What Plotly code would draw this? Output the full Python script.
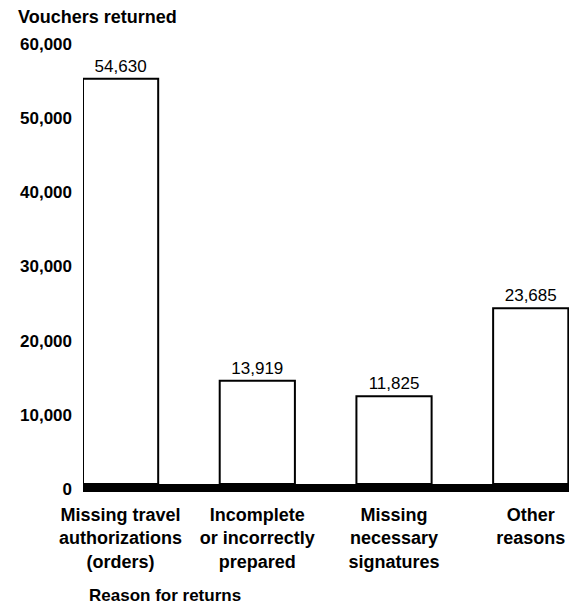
import plotly.graph_objects as go

# Reasons travel vouchers were returned, and how many of each
reasons = [
    "Missing travel<br>authorizations<br>(orders)",
    "Incomplete<br>or incorrectly<br>prepared",
    "Missing<br>necessary<br>signatures",
    "Other<br>reasons",
]
vouchers = [54630, 13919, 11825, 23685]
y_ticks = [0, 10000, 20000, 30000, 40000, 50000, 60000]

W, H = 569, 604
L, R, T, B = 83, 0, 39, 120
FONT = "Liberation Sans, Arial, Helvetica, sans-serif"

fig = go.Figure(
    go.Bar(
        x=reasons,
        y=vouchers,
        width=0.55,
        marker=dict(color="white", line=dict(color="black", width=2)),
        text=[f"{v:,}" for v in vouchers],
        textposition="outside",
        textfont=dict(family=FONT, size=17, color="black"),
        constraintext="none",
        cliponaxis=False,
    )
)

# heavy baseline under the bars
fig.add_shape(
    type="rect", xref="paper", x0=0, x1=1,
    yref="paper", ysizemode="pixel", yanchor=0, y0=-8, y1=0,
    fillcolor="black", line=dict(width=0), layer="above",
)

fig.add_annotation(
    text="<b>Reason for returns</b>", showarrow=False,
    xref="paper", yref="paper",
    x=(87 - L) / (W - L - R), y=(484 - 595) / (484 - T),
    xanchor="left", yanchor="middle",
    font=dict(family=FONT, size=17, color="black"),
)

fig.update_layout(
    width=W, height=H,
    margin=dict(l=L, r=R, t=T, b=B, pad=0),
    paper_bgcolor="white", plot_bgcolor="white",
    showlegend=False,
    title=dict(
        text="<b>Vouchers returned</b>",
        xref="container", yref="container",
        x=18 / W, y=1 - 17 / H, xanchor="left", yanchor="middle",
        font=dict(family=FONT, size=18, color="black"),
    ),
    xaxis=dict(
        type="category", range=[-0.275, 3.28],
        tickvals=reasons, ticktext=[f"<b>{r}</b>" for r in reasons],
        showline=False, showgrid=False, zeroline=False, ticks="",
        tickfont=dict(family=FONT, size=18, color="black"),
        ticklabelstandoff=18,
    ),
    yaxis=dict(
        range=[0, 60000], tickvals=y_ticks,
        ticktext=[f"<b>{v:,}</b>" for v in y_ticks],
        showline=False, showgrid=False, zeroline=False, ticks="",
        tickfont=dict(family=FONT, size=17, color="black"),
        ticklabelstandoff=10, ticklabelshift=5,
    ),
    font=dict(family=FONT, color="black"),
)

fig.write_html("out.html")
